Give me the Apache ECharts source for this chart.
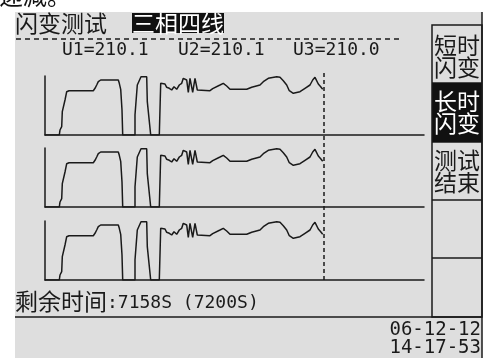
<!DOCTYPE html>
<html><head><meta charset="utf-8">
<script src="https://cdn.jsdelivr.net/npm/echarts@6/dist/echarts.min.js"></script>
<style>html,body{margin:0;padding:0;background:#fff;}#c{width:491px;height:358px;}</style>
</head><body><div id="c"></div>
<script>
// sample position (time axis units) and flicker trace values for the three phases
const sampleX = [0,14.3,15,16.7,17.3,19,20,21.7,24,48.3,50,51.7,53.3,55.7,73.3,74.3,75.7,77,77.7,90,90,91.7,92.3,94.3,96,101.7,102.3,104.3,105.7,114.3,115.7,117.7,120,121.7,124.3,126.7,129,131.7,134.3,136.7,138.3,140,141.7,143.3,144.3,145,146.7,147.7,149,150,151.7,152.3,165,167.7,175,178.3,181.7,185,201.7,206.7,215,218.3,223.3,231.7,235,238.3,241.7,244.3,248.3,255,260,265,267.7,270,271.7,273.3,275.7,277.7];
const u1Values = [0,0,5,8.3,23.3,25,35,43.3,44.3,44.3,46.7,50,53.3,55,55,51.7,45.7,25,0,0,20,20,50,51.7,58.3,58.3,33.3,33.3,0,0,51.7,53.3,51,47.7,46.7,45,48.3,45.7,50,51.7,56.7,58.3,55,42.7,42.7,56.7,58.3,42.7,42.7,56.7,55,45,44.3,46.3,50,51.7,49,45.7,45.7,47.7,50,53.3,56.7,58.3,57.7,54.3,50,44.3,41.7,43.3,46.7,50,55,57.7,55.7,51,48.3,45.7];
const u2Values = u1Values.slice();
const u3Values = u1Values.slice();
const cursorX = [279];
const phaseLabels = ['U1=210.1','U2=210.1','U3=210.0'];
const buttonLabels = ['短时\n闪变','长时\n闪变','测试\n结束'];
const titleText = '闪变测试';
const modeText = '三相四线';
const remainLabel = '剩余时间';
const remainValue = ':7158S (7200S)';
const dateLines = ['06-12-12','14-17-53'];

const INK = '#1a1a1a';
const CJK = '"Noto Sans CJK SC"';
const MONO = '"DejaVu Sans Mono"';
const chart = echarts.init(document.getElementById('c'));

const toPairs = vals => sampleX.map((x,i)=>[x, vals[i]]);
const grids = [
  {left:45, top:76, width:379, height:59},
  {left:45, top:148, width:379, height:59},
  {left:45, top:221, width:379, height:59},
  {left:45, top:73, width:379, height:207}
];
const xAxes = grids.map((g,i)=>({
  type:'value', gridIndex:i, min:0, max:379, show: i<3,
  axisLine:{show:true, lineStyle:{color:INK, width:1.5}},
  axisTick:{show:false}, axisLabel:{show:false}, splitLine:{show:false}
}));
const yAxes = grids.map((g,i)=>({
  type:'value', gridIndex:i, min:0, max:59, show: i<3,
  axisLine:{show:true, lineStyle:{color:INK, width:1.5}},
  axisTick:{show:false}, axisLabel:{show:false}, splitLine:{show:false}
}));
const lineSeries = [u1Values,u2Values,u3Values].map((v,i)=>({
  type:'line', xAxisIndex:i, yAxisIndex:i, data:toPairs(v),
  showSymbol:false, symbol:'none', smooth:false,
  lineStyle:{color:INK, width:1.5}, z:5
}));
lineSeries.push({
  type:'line', xAxisIndex:3, yAxisIndex:3, data:[[cursorX[0],0]],
  showSymbol:false, symbol:'none', lineStyle:{opacity:0},
  markLine:{silent:true, symbol:'none', label:{show:false},
    lineStyle:{color:INK, width:1.5, type:[4,3]},
    data:[{xAxis:cursorX[0]}]}
});

const txt = (text,x,y,font,fill,align)=>({type:'text', x:x, y:y, z:20,
  style:{text:text, font:font, fill:fill||INK, textAlign:align||'left', textVerticalAlign:'middle'}});
const ln = (x1,y1,x2,y2,dash)=>({type:'line', z:10,
  shape:{x1:x1,y1:y1,x2:x2,y2:y2}, style:{stroke:INK, lineWidth:1.5, lineDash:dash||null}});

const graphics = [
  {type:'rect', z:-10, shape:{x:0,y:0,width:491,height:358}, style:{fill:'#ffffff'}},
  txt('递减。', -1, -4, '24px '+CJK, '#111'),
  {type:'rect', z:-9, shape:{x:15,y:12,width:467,height:346}, style:{fill:'#dedede'}},
  ln(482,12,482,358),
  txt(titleText, 15, 23, '23px '+CJK),
  {type:'rect', z:15, shape:{x:132,y:13,width:92,height:20}, style:{fill:'#111'}},
  txt(modeText, 178, 23, '23px '+CJK, '#ffffff', 'center'),
  ln(16,39,402,39,[5,4]),
  txt(phaseLabels[0], 62, 50, '18px '+MONO),
  txt(phaseLabels[1], 178, 50, '18px '+MONO),
  txt(phaseLabels[2], 293, 50, '18px '+MONO),
  {type:'rect', z:11, shape:{x:432,y:83,width:50,height:59}, style:{fill:'#111'}},
  {type:'rect', z:12, shape:{x:432,y:25,width:50,height:292}, style:{fill:'none', stroke:INK, lineWidth:1.5}},
  ln(432,83,482,83), ln(432,142,482,142), ln(432,200,482,200), ln(432,258,482,258),
  {type:'text', x:457, y:56, z:20, style:{text:buttonLabels[0], font:'23px '+CJK, fill:INK, textAlign:'center', textVerticalAlign:'middle', lineHeight:22}},
  {type:'text', x:457, y:112, z:20, style:{text:buttonLabels[1], font:'23px '+CJK, fill:'#ffffff', textAlign:'center', textVerticalAlign:'middle', lineHeight:22}},
  {type:'text', x:457, y:171, z:20, style:{text:buttonLabels[2], font:'23px '+CJK, fill:INK, textAlign:'center', textVerticalAlign:'middle', lineHeight:22}},
  ln(15,317,482,317),
  txt(remainLabel, 15, 301, '23px '+CJK),
  txt(remainValue, 107, 303, '18px '+MONO),
  txt(dateLines[0], 481, 330, '19px '+MONO, INK, 'right'),
  txt(dateLines[1], 481, 348, '19px '+MONO, INK, 'right')
];

chart.setOption({
  animation:false,
  grid:grids, xAxis:xAxes, yAxis:yAxes, series:lineSeries,
  graphic:{elements:graphics}
});
</script>
</body></html>
